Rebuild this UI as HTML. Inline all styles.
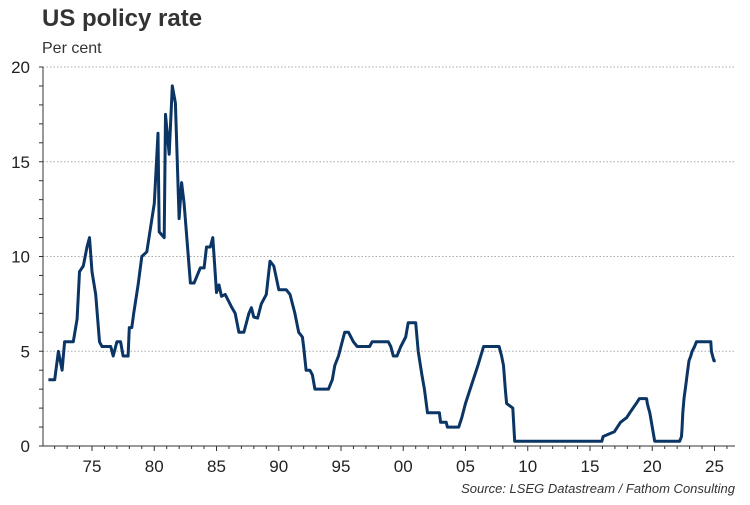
<!DOCTYPE html>
<html><head><meta charset="utf-8"><style>
body{margin:0;background:#fff;width:750px;height:500px;overflow:hidden;font-family:"Liberation Sans",sans-serif}
</style></head><body>
<svg width="750" height="500">
<text x="42" y="26" font-size="24" font-weight="bold" fill="#333">US policy rate</text>
<text x="42" y="53" font-size="16" fill="#333">Per cent</text>
<text x="735" y="493" font-size="13" font-style="italic" fill="#333" text-anchor="end">Source: LSEG Datastream / Fathom Consulting</text>
<g id="grid"></g><g id="axes"></g><g id="plot"></g>
</svg>
<script>
const yTicks=[0,5,10,15,20];
const xLabels=["75","80","85","90","95","00","05","10","15","20","25"];
const xLabelYears=[1975,1980,1985,1990,1995,2000,2005,2010,2015,2020,2025];
const years=[
1971.5,1972.0,1972.3,1972.6,1972.8,1973.5,1973.8,1974.0,1974.3,1974.6,
1974.8,1975.0,1975.3,1975.6,1975.8,1976.5,1976.7,1977.0,1977.3,1977.5,
1977.9,1978.0,1978.2,1978.35,1978.7,1979.0,1979.4,1980.0,1980.3,1980.4,
1980.8,1980.9,1981.2,1981.45,1981.7,1982.0,1982.2,1982.4,1982.9,1983.2,
1983.7,1984.0,1984.2,1984.5,1984.7,1985.0,1985.2,1985.4,1985.7,1986.2,
1986.5,1986.8,1987.2,1987.6,1987.8,1988.0,1988.3,1988.6,1989.0,1989.3,
1989.6,1990.0,1990.6,1990.9,1991.3,1991.6,1991.9,1992.0,1992.2,1992.5,
1992.7,1992.9,1994.0,1994.3,1994.5,1994.8,1995.1,1995.3,1995.6,1996.0,
1996.3,1997.3,1997.5,1998.8,1999.0,1999.2,1999.5,1999.8,2000.2,2000.4,
2001.0,2001.2,2001.5,2001.7,2001.95,2002.9,2003.0,2003.45,2003.55,2004.45,
2004.7,2005.0,2005.5,2006.0,2006.45,2007.7,2007.9,2008.05,2008.2,2008.3,
2008.8,2008.95,2015.95,2016.05,2016.95,2017.2,2017.45,2017.95,2018.2,2018.45,
2018.72,2018.97,2019.55,2019.6,2019.7,2019.8,2020.2,2022.2,2022.35,2022.4,
2022.45,2022.55,2022.7,2022.85,2022.95,2023.1,2023.2,2023.4,2023.55,2024.7,
2024.75,2024.85,2024.95,2025.1];
const rates=[
3.5,3.5,5,4,5.5,5.5,6.7,9.2,9.5,10.5,
11,9.2,8,5.5,5.25,5.25,4.75,5.5,5.5,4.75,
4.75,6.25,6.25,7,8.5,10,10.25,12.8,16.5,11.3,
11,17.5,15.4,19,18.1,12,13.9,12.8,8.6,8.6,
9.4,9.4,10.5,10.5,11,8.1,8.5,7.9,8,7.35,
7,6,6,7,7.3,6.8,6.75,7.5,8,9.75,
9.5,8.25,8.25,8,7,6,5.75,5.25,4,4,
3.75,3,3,3.5,4.25,4.75,5.5,6,6,5.5,
5.25,5.25,5.5,5.5,5.25,4.75,4.75,5.25,5.75,6.5,
6.5,5,3.75,3,1.75,1.75,1.25,1.25,1,1,
1.5,2.25,3.25,4.25,5.25,5.25,4.75,4.25,3,2.25,
2,0.25,0.25,0.5,0.75,1,1.25,1.5,1.75,2,
2.25,2.5,2.5,2.25,2,1.75,0.25,0.25,0.5,1,
1.75,2.5,3.25,4,4.5,4.75,5,5.25,5.5,5.5,
5,4.75,4.5,4.5];
const NS="http://www.w3.org/2000/svg";
const X0=92,PX=12.45,Y0=446,PY=18.95,LEFT=43,RIGHT=735;
function xs(yr){return X0+(yr-1975)*PX;}
function ys(v){return Y0-v*PY;}
function mk(tag,attrs,parent){const e=document.createElementNS(NS,tag);for(const k in attrs)e.setAttribute(k,attrs[k]);document.getElementById(parent).appendChild(e);return e;}
yTicks.forEach(t=>{
  if(t>0){const g=mk('line',{x1:LEFT,x2:RIGHT,y1:ys(t),y2:ys(t),stroke:'#aaa','stroke-width':1,'stroke-dasharray':'1.5,2'},'grid');
  
  }
  const l=mk('text',{x:30,y:ys(t)+6,'font-size':17,fill:'#222','text-anchor':'end'},'axes');
  l.textContent=t;
  
  
});
for(let v=0;v<=20;v++){mk('line',{x1:LEFT-4,x2:LEFT,y1:ys(v),y2:ys(v),stroke:'#333','stroke-width':1},'axes');}
const ya=mk('line',{x1:LEFT,x2:LEFT,y1:ys(20),y2:Y0,stroke:'#333','stroke-width':1},'axes');


const xa=mk('line',{x1:LEFT-4,x2:RIGHT,y1:Y0,y2:Y0,stroke:'#333','stroke-width':1},'axes');


for(let yr=1972;yr<=2026;yr++){const maj=yr%5===0;mk('line',{x1:xs(yr),x2:xs(yr),y1:Y0,y2:Y0+(maj?5:3),stroke:'#333','stroke-width':1},'axes');}
xLabels.forEach((s,i)=>{const t=mk('text',{x:xs(xLabelYears[i]),y:Y0+26,'font-size':17,fill:'#222','text-anchor':'middle'},'axes');
t.textContent=s;

});
const d=years.map((y,i)=>(i?'L':'M')+xs(y).toFixed(1)+','+ys(rates[i]).toFixed(1)).join(' ');
const p=mk('path',{d:d,fill:'none',stroke:'#0b3565','stroke-width':3,'stroke-linejoin':'round'},'plot');


</script>
</body></html>
